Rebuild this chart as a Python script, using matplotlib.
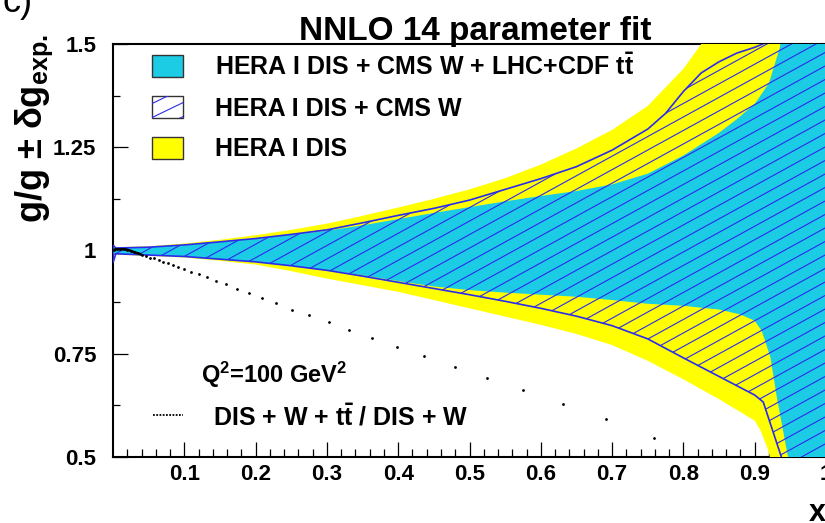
import numpy as np
import matplotlib
matplotlib.use("Agg")
import matplotlib.pyplot as plt
from matplotlib.patches import Polygon, Rectangle
from matplotlib.collections import LineCollection

plt.rcParams['font.family'] = ['Liberation Sans', 'DejaVu Sans']
plt.rcParams['font.weight'] = 'bold'
plt.rcParams['mathtext.fontset'] = 'custom'
plt.rcParams['mathtext.rm'] = 'Liberation Sans:bold'
plt.rcParams['mathtext.it'] = 'Liberation Sans:bold'
plt.rcParams['mathtext.bf'] = 'Liberation Sans:bold'

# ---------------- data ----------------
# HERA I DIS (yellow)
x_dis_up = [0, 0.05, 0.1, 0.15, 0.2, 0.25, 0.3, 0.35, 0.4, 0.45, 0.5, 0.55, 0.6, 0.65, 0.7,
            0.75, 0.8, 0.85, 0.9, 1.0]
dis_up = [1.008, 1.010, 1.017, 1.026, 1.037, 1.050, 1.065, 1.084, 1.104, 1.125, 1.148, 1.175,
          1.208, 1.247, 1.292, 1.350, 1.440, 1.56, 1.70, 2.0]
x_dis_lo = [0, 0.05, 0.1, 0.15, 0.2, 0.25, 0.3, 0.35, 0.4, 0.45, 0.5, 0.55, 0.6, 0.65, 0.7,
            0.75, 0.8, 0.85, 0.9, 0.908, 0.919, 0.93, 1.0]
dis_lo = [0.990, 0.987, 0.983, 0.975, 0.966, 0.950, 0.932, 0.916, 0.900, 0.880, 0.860, 0.840,
          0.820, 0.798, 0.771, 0.733, 0.688, 0.640, 0.588, 0.565, 0.516, 0.44, -0.2]

# HERA I DIS + CMS W (hatched)
x_w_up = [0, 0.004, 0.05, 0.1, 0.15, 0.2, 0.25, 0.3, 0.35, 0.4, 0.45, 0.5, 0.55, 0.6, 0.65, 0.7,
          0.75, 0.775, 0.8, 0.825, 0.85, 0.875, 0.9, 0.925, 0.95, 1.0]
w_up = [1.013, 1.006, 1.008, 1.0135, 1.021, 1.029, 1.039, 1.050, 1.067, 1.085, 1.102, 1.122,
        1.148, 1.174, 1.203, 1.243, 1.294, 1.332, 1.385, 1.430, 1.457, 1.478, 1.492, 1.51,
        1.56, 1.7]
x_w_lo = [0, 0.004, 0.05, 0.1, 0.15, 0.2, 0.25, 0.3, 0.35, 0.4, 0.45, 0.5, 0.55, 0.6, 0.65, 0.7,
          0.75, 0.8, 0.85, 0.9, 0.912, 0.938, 0.95, 1.0]
w_lo = [0.970, 0.992, 0.989, 0.9855, 0.979, 0.9725, 0.963, 0.952, 0.938, 0.923, 0.908, 0.893,
        0.877, 0.860, 0.841, 0.818, 0.786, 0.740, 0.695, 0.650, 0.633, 0.497, 0.43, 0.1]

# HERA I DIS + CMS W + LHC+CDF ttbar (cyan)
x_all_up = [0, 0.05, 0.1, 0.15, 0.2, 0.25, 0.3, 0.35, 0.4, 0.45, 0.5, 0.55, 0.6, 0.65, 0.7,
            0.75, 0.8, 0.85, 0.875, 0.9, 0.92, 0.935, 0.95, 1.0]
all_up = [1.006, 1.008, 1.013, 1.020, 1.028, 1.038, 1.048, 1.061, 1.076, 1.091, 1.105, 1.119,
          1.132, 1.144, 1.160, 1.186, 1.230, 1.285, 1.318, 1.355, 1.405, 1.49, 1.65, 2.5]
x_all_lo = [0, 0.05, 0.1, 0.15, 0.2, 0.25, 0.3, 0.35, 0.4, 0.45, 0.5, 0.55, 0.6, 0.65, 0.7,
            0.75, 0.8, 0.85, 0.88, 0.9, 0.91, 0.922, 0.931, 0.947, 0.96, 1.0]
all_lo = [0.992, 0.989, 0.9855, 0.979, 0.9725, 0.963, 0.953, 0.940, 0.926, 0.913, 0.904, 0.898,
          0.893, 0.888, 0.880, 0.871, 0.866, 0.857, 0.845, 0.830, 0.805, 0.742, 0.645, 0.497,
          0.35, -0.3]

# ratio DIS + W + ttbar / DIS + W (dotted)
x_ratio = [0.001, 0.005, 0.010, 0.015, 0.020, 0.025, 0.030, 0.035, 0.040, 0.0462, 0.0523,
           0.0579, 0.064, 0.0705, 0.0766, 0.0836, 0.0915, 0.0999, 0.109, 0.120, 0.1317, 0.1443,
           0.1583, 0.1737, 0.1905, 0.2091, 0.2293, 0.2507, 0.2755, 0.3025, 0.3315, 0.3637,
           0.3982, 0.4366, 0.479, 0.5252, 0.5756, 0.6307, 0.6919, 0.7591]
ratio = [1.002, 1.003, 1.003, 1.003, 1.002, 0.999, 0.996, 0.993, 0.990, 0.986, 0.983, 0.981,
         0.977, 0.973, 0.969, 0.965, 0.960, 0.954, 0.948, 0.943, 0.935, 0.927, 0.918, 0.906,
         0.897, 0.884, 0.872, 0.856, 0.843, 0.826, 0.808, 0.788, 0.767, 0.744, 0.719, 0.692,
         0.662, 0.629, 0.591, 0.545]

x_ticks = [0.1, 0.2, 0.3, 0.4, 0.5, 0.6, 0.7, 0.8, 0.9, 1.0]
x_ticklabels = ["0.1", "0.2", "0.3", "0.4", "0.5", "0.6", "0.7", "0.8", "0.9", "1"]
y_ticks = [0.5, 0.75, 1.0, 1.25, 1.5]
y_ticklabels = ["0.5", "0.75", "1", "1.25", "1.5"]

legend_labels = [r"HERA I DIS + CMS W + LHC+CDF t$\bar{\mathrm{t}}$",
                 "HERA I DIS + CMS W",
                 "HERA I DIS"]
ratio_label = r"DIS + W + t$\bar{\mathrm{t}}$ / DIS + W"

# ---------------- style ----------------
YELLOW = "#ffff00"
CYAN = "#1ccbe4"
BLUE = "#2b2bf0"
W, H = 825, 523

fig = plt.figure(figsize=(W / 100, H / 100), dpi=100)
fig.patch.set_facecolor("white")

ax_l, ax_r, ax_t, ax_b = 113, 826, 44, 457
ax = fig.add_axes([ax_l / W, 1 - ax_b / H, (ax_r - ax_l) / W, (ax_b - ax_t) / H])
ax.set_xlim(0, 1)
ax.set_ylim(0.5, 1.5)


def band(xu, yu, xl, yl):
    pts = list(zip(xu, yu)) + list(zip(xl[::-1], yl[::-1]))
    return np.array(pts)


ax.add_patch(Polygon(band(x_dis_up, dis_up, x_dis_lo, dis_lo), closed=True,
                     facecolor=YELLOW, edgecolor="none", zorder=3))
ax.add_patch(Polygon(band(x_all_up, all_up, x_all_lo, all_lo), closed=True,
                     facecolor=CYAN, edgecolor="none", zorder=4))
hatch_poly = Polygon(band(x_w_up, w_up, x_w_lo, w_lo), closed=True,
                     facecolor="none", edgecolor=BLUE, linewidth=1.2, zorder=6)
ax.add_patch(hatch_poly)


def hatch_lines(xspan_px, yspan_px, slope=0.55, dv=13.5):
    # lines in axes-fraction coordinates, constant pixel slope and spacing
    k = slope * xspan_px / yspan_px
    step = dv / yspan_px
    segs = []
    c = -k - step
    while c < 1 + step:
        segs.append([(0, c), (1, c + k)])
        c += step
    return segs


lc = LineCollection(hatch_lines(ax_r - ax_l, ax_b - ax_t), colors=BLUE,
                    linewidths=0.8, transform=ax.transAxes, zorder=5)
ax.add_collection(lc)
lc.set_clip_path(hatch_poly)

# ratio dots
xr = np.array(x_ratio)
rr = np.array(ratio)
ax.plot(xr[xr < 0.045], rr[xr < 0.045], color="black", lw=1.8, zorder=7, solid_capstyle="butt")
ax.plot(xr, rr, ls="none", marker="o", ms=2.0, color="black", mew=0, zorder=7)

# axes style
for s in ["top", "left", "bottom"]:
    ax.spines[s].set_linewidth(1.5)
    ax.spines[s].set_zorder(2)
ax.spines["right"].set_visible(False)
ax.set_xticks(x_ticks)
ax.set_xticklabels(x_ticklabels)
ax.set_xticks(np.arange(0.02, 1.0, 0.02), minor=True)
ax.set_yticks(y_ticks)
ax.set_yticklabels(y_ticklabels)
ax.set_yticks([0.625, 0.875, 1.125, 1.375], minor=True)
ax.tick_params(axis="both", which="both", direction="in", top=False, right=False,
               labelsize=16, width=0.9)
ax.tick_params(axis="x", which="major", length=10.8, pad=5)
ax.tick_params(axis="x", which="minor", length=5.6)
ax.tick_params(axis="y", which="major", length=10.8, pad=12)
ax.tick_params(axis="y", which="minor", length=5.0)
for lab in ax.get_xticklabels() + ax.get_yticklabels():
    lab.set_fontweight("bold")

# ---------------- overlay (pixel coordinates) ----------------
ov = fig.add_axes([0, 0, 1, 1], zorder=10)
ov.set_xlim(0, W)
ov.set_ylim(H, 0)
ov.axis("off")
ov.patch.set_visible(False)

ov.text(475, 40, "NNLO 14 parameter fit", ha="center", va="baseline", fontsize=24,
        fontweight="bold")
ov.text(33, 12, "c)", ha="right", va="baseline", fontsize=26, fontweight="normal")
ov.text(34, 128, r"g/g $\pm$ $\delta$g$_{\mathrm{exp.}}$", rotation=90, ha="center",
        va="center", fontsize=26, fontweight="bold")
ov.text(817, 521, "x", ha="center", va="baseline", fontsize=22, fontweight="bold")

box_x0, box_w, box_h = 152, 31, 22
centres = [66, 107, 148]
baselines = [75, 116, 156.5]
fills = [CYAN, "white", YELLOW]
for yc, yb, fc, lab in zip(centres, baselines, fills, legend_labels):
    r = Rectangle((box_x0, yc - box_h / 2), box_w, box_h, facecolor=fc,
                  edgecolor="#333333", linewidth=1.0, zorder=2)
    ov.add_patch(r)
    ov.text(215, yb, lab, ha="left", va="baseline", fontsize=18, fontweight="bold")

# hatch inside the second legend box
yc = centres[1]
r2 = Rectangle((box_x0, yc - box_h / 2), box_w, box_h, facecolor="none",
               edgecolor="none")
ov.add_patch(r2)
segs = []
for c in np.arange(-40, 40, 14):
    segs.append([(box_x0 - 5, yc + c + 0.55 * 20), (box_x0 + box_w + 5, yc + c - 0.55 * (box_w - 15))])
lc2 = LineCollection(segs, colors=BLUE, linewidths=0.8, zorder=3)
ov.add_collection(lc2)
lc2.set_clip_path(r2)

ov.text(201, 383, r"Q$^{2}$=100 GeV$^{2}$", ha="left", va="baseline", fontsize=17,
        fontweight="bold")
ov.plot([153, 183], [415, 415], color="black", lw=1.3, ls=(0, (1, 0.8)))
ov.text(213, 425, ratio_label, ha="left", va="baseline", fontsize=18, fontweight="bold")

fig.savefig("out.png", dpi=100, facecolor="white")
